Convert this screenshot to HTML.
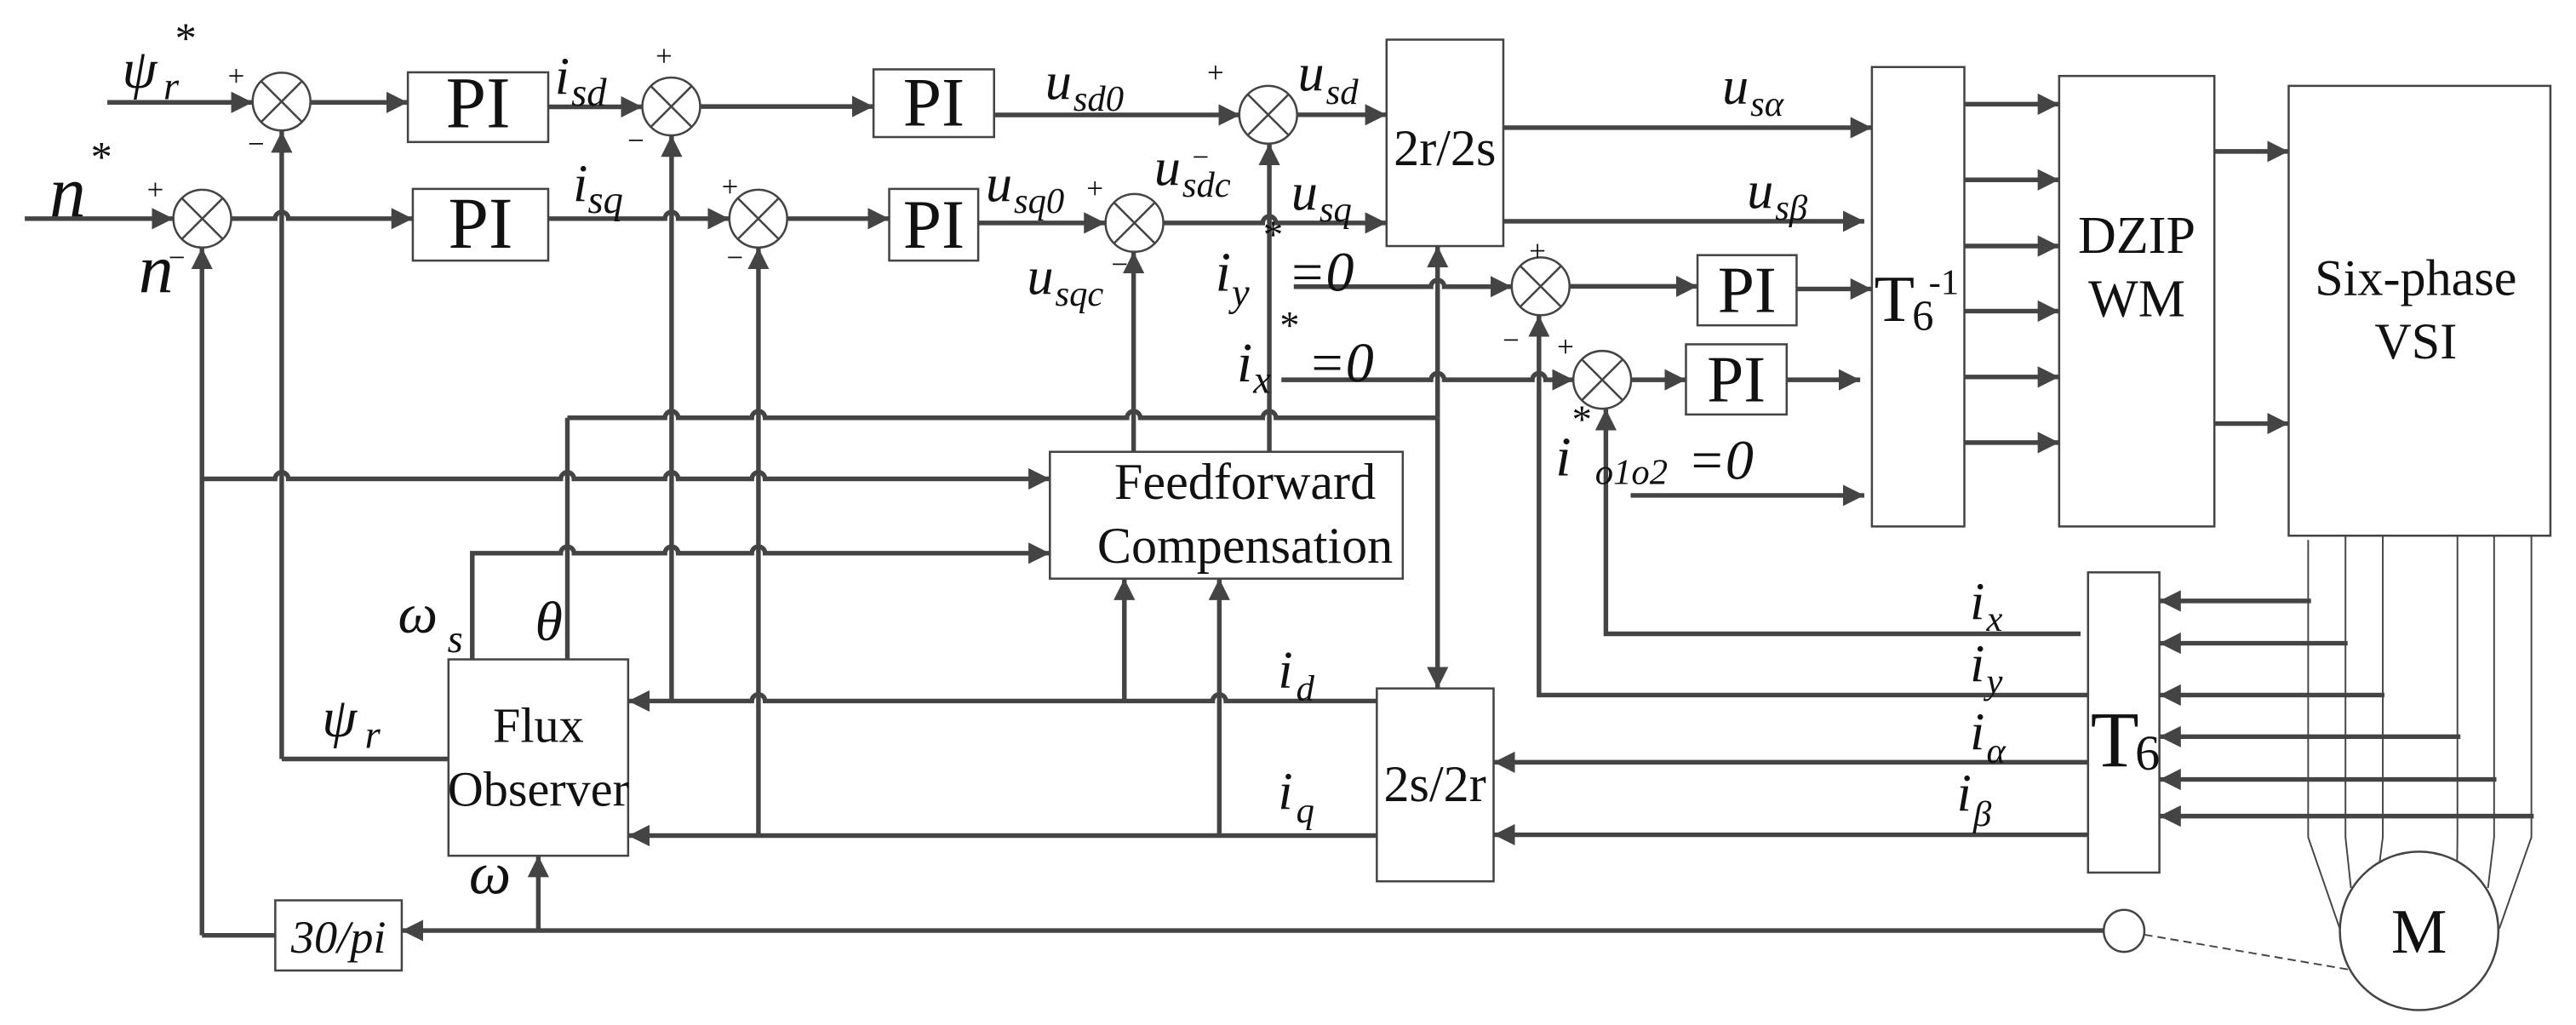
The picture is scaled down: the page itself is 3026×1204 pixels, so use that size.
<!DOCTYPE html>
<html><head><meta charset="utf-8"><style>
html,body{margin:0;padding:0;background:#fff}
svg{display:block}
text{font-family:"Liberation Serif",serif;fill:#111}
.i{font-style:italic}
</style></head><body>
<svg width="3026" height="1204" viewBox="0 0 1560 620.7" preserveAspectRatio="none" xmlns="http://www.w3.org/2000/svg">
<defs>
<marker id="a" viewBox="0 0 13 13" refX="13" refY="6.5" markerWidth="13" markerHeight="13" markerUnits="userSpaceOnUse" orient="auto"><path d="M0,0 L13,6.5 L0,13 z" fill="#444"/></marker>
</defs>
<g stroke="#444" stroke-width="2.8" fill="none">
<!-- arrowed lines -->
<g marker-end="url(#a)">
<path d="M65,62 L153,62"/>
<path d="M188,62 L247,62"/>
<path d="M332,64.7 L389,64.7"/>
<path d="M424,64.5 L529,64.5"/>
<path d="M602,69.6 L751,69.6"/>
<path d="M785,69.5 L839.7,69.5"/>
<path d="M910.4,77.3 L1133.6,77.3"/>
<path d="M910.4,134 L1129,134"/>
<path d="M15,132.4 L105,132.4"/>
<path d="M140,132.4 L166.6,132.4 A4,4 0 0 1 174.6,132.4 L250,132.4"/>
<path d="M332,132.4 L402.7,132.4 A4,4 0 0 1 410.7,132.4 L441.6,132.4"/>
<path d="M476.8,132.4 L538.5,132.4"/>
<path d="M592.4,135 L669.4,135"/>
<path d="M704.6,135 L764.7,135 A4,4 0 0 1 772.7,135 L839.7,135"/>
<path d="M170.6,459.6 L170.6,79.5"/>
<path d="M406.7,424.5 L406.7,82"/>
<path d="M459.3,506 L459.3,150"/>
<path d="M122.3,566.4 L122.3,150"/>
<path d="M686.5,273.6 L686.5,152.5"/>
<path d="M768.7,273.6 L768.7,87"/>
<path d="M870.6,253 L870.6,149"/>
<path d="M870.6,253 L870.6,416.9"/>
<path d="M122.3,290 L166.6,290 A4,4 0 0 1 174.6,290 L339.6,290 A4,4 0 0 1 347.6,290 L402.7,290 A4,4 0 0 1 410.7,290 L455.3,290 A4,4 0 0 1 463.3,290 L635.8,290"/>
<path d="M286,399.3 L286,335 L339.6,335 A4,4 0 0 1 347.6,335 L402.7,335 A4,4 0 0 1 410.7,335 L455.3,335 A4,4 0 0 1 463.3,335 L635.8,335"/>
<path d="M833.8,424.5 L742.4,424.5 A4,4 0 0 0 734.4,424.5 L463.3,424.5 A4,4 0 0 0 455.3,424.5 L380.4,424.5"/>
<path d="M833.8,506 L380.4,506"/>
<path d="M680.9,424.5 L680.9,350.4"/>
<path d="M738.4,506 L738.4,350.4"/>
<path d="M1274,563.5 L243.3,563.5"/>
<path d="M326,563.5 L326,518.2"/>
<path d="M783.5,173.6 L866.6,173.6 A4,4 0 0 1 874.6,173.6 L915.6,173.6"/>
<path d="M776,230 L866.6,230 A4,4 0 0 1 874.6,230 L928,230 A4,4 0 0 1 936,230 L953,230"/>
<path d="M950.5,173.4 L1028,173.4"/>
<path d="M987.7,230 L1021,230"/>
<path d="M1088,175 L1133.6,175"/>
<path d="M1082,230 L1126.5,230"/>
<path d="M987.5,300 L1129,300"/>
<path d="M1260,383.8 L972.5,383.8 L972.5,247.6"/>
<path d="M1264.5,420.9 L932,420.9 L932,191"/>
<path d="M1264.5,461.6 L904.5,461.6"/>
<path d="M1264.5,505.5 L904.5,505.5"/>
<path d="M1189.6,63.1 L1247,63.1"/>
<path d="M1189.6,108.9 L1247,108.9"/>
<path d="M1189.6,149 L1247,149"/>
<path d="M1189.6,188.4 L1247,188.4"/>
<path d="M1189.6,228.3 L1247,228.3"/>
<path d="M1189.6,268 L1247,268"/>
<path d="M1341,91.7 L1386,91.7"/>
<path d="M1341,256.5 L1386,256.5"/>
<path d="M1399.5,363.9 L1307.7,363.9"/>
<path d="M1421.7,389.5 L1307.7,389.5"/>
<path d="M1444,420.9 L1307.7,420.9"/>
<path d="M1490,446.1 L1307.7,446.1"/>
<path d="M1511.8,472 L1307.7,472"/>
<path d="M1534.4,494.2 L1307.7,494.2"/>
</g>
<!-- plain lines -->
<path d="M343.6,253 L402.7,253 A4,4 0 0 1 410.7,253 L455.3,253 A4,4 0 0 1 463.3,253 L682.5,253 A4,4 0 0 1 690.5,253 L764.7,253 A4,4 0 0 1 772.7,253 L870.6,253"/>
<path d="M343.6,399.3 L343.6,253"/>
<path d="M271.6,459.6 L170.6,459.6"/>
<path d="M166.7,566.4 L122.3,566.4"/>
</g>
<!-- thin wires -->
<g stroke="#444" stroke-width="1" fill="none">
<path d="M1397.8,327 L1397.8,507 L1417,562.5"/>
<path d="M1420.4,324.4 L1420.4,507 L1423.7,537.7"/>
<path d="M1443,324.4 L1443,507 L1441,522.8"/>
<path d="M1488.2,324.4 L1488.2,507 L1488,522.8"/>
<path d="M1510.4,324.4 L1510.4,507 L1506.7,537.7"/>
<path d="M1533,324.4 L1533,507 L1513.5,562.5"/>
<path d="M1298.6,566 L1423.4,587.3" stroke-dasharray="5,3"/>
</g>
<!-- boxes -->
<g stroke="#444" stroke-width="1.3" fill="#fff">
<rect x="247" y="43.8" width="85" height="42.2"/>
<rect x="250" y="114.4" width="82" height="43.4"/>
<rect x="529" y="42" width="73" height="41"/>
<rect x="538.5" y="114.4" width="53.9" height="43.4"/>
<rect x="839.7" y="24" width="70.7" height="125"/>
<rect x="1028" y="154.5" width="60" height="42.5"/>
<rect x="1021" y="208.5" width="61" height="42.5"/>
<rect x="1133.6" y="40.6" width="56" height="278.2"/>
<rect x="1247" y="46" width="94" height="272.8"/>
<rect x="1386" y="52" width="158.5" height="272.4"/>
<rect x="635.8" y="273.6" width="213.7" height="76.8"/>
<rect x="271.6" y="399.3" width="108.8" height="118.9"/>
<rect x="166.7" y="545.2" width="76.6" height="42.5"/>
<rect x="833.8" y="416.9" width="70.7" height="116.8"/>
<rect x="1264.5" y="346.6" width="43.2" height="181.8"/>
<circle cx="1465" cy="563.7" r="48"/>
<ellipse cx="1286.3" cy="563.7" rx="12.3" ry="12.7"/>
</g>
<!-- summing junctions -->
<g stroke="#444" stroke-width="1.3" fill="#fff">
<g transform="translate(170.5,61.5)"><circle r="17.5"/><path d="M-12.4,-12.4L12.4,12.4M12.4,-12.4L-12.4,12.4"/></g>
<g transform="translate(406.5,64.5)"><circle r="17.5"/><path d="M-12.4,-12.4L12.4,12.4M12.4,-12.4L-12.4,12.4"/></g>
<g transform="translate(768,69.5)"><circle r="17.5"/><path d="M-12.4,-12.4L12.4,12.4M12.4,-12.4L-12.4,12.4"/></g>
<g transform="translate(122.5,132.4)"><circle r="17.5"/><path d="M-12.4,-12.4L12.4,12.4M12.4,-12.4L-12.4,12.4"/></g>
<g transform="translate(459.2,132.4)"><circle r="17.5"/><path d="M-12.4,-12.4L12.4,12.4M12.4,-12.4L-12.4,12.4"/></g>
<g transform="translate(687,135)"><circle r="17.5"/><path d="M-12.4,-12.4L12.4,12.4M12.4,-12.4L-12.4,12.4"/></g>
<g transform="translate(933,173.4)"><circle r="17.5"/><path d="M-12.4,-12.4L12.4,12.4M12.4,-12.4L-12.4,12.4"/></g>
<g transform="translate(970.3,230)"><circle r="17.5"/><path d="M-12.4,-12.4L12.4,12.4M12.4,-12.4L-12.4,12.4"/></g>
</g>
<!-- block labels -->
<g text-anchor="middle">
<text x="289.5" y="77" font-size="44">PI</text>
<text x="291" y="150" font-size="44">PI</text>
<text x="565.5" y="76" font-size="42">PI</text>
<text x="565.5" y="150" font-size="42">PI</text>
<text x="1058" y="189" font-size="40">PI</text>
<text x="1051.5" y="243" font-size="40">PI</text>
<text x="875" y="100" font-size="31">2r/2s</text>
<text x="869" y="485" font-size="31">2s/2r</text>
<text x="1294" y="153" font-size="32">DZIP</text>
<text x="1294" y="191.4" font-size="32">WM</text>
<text x="1463" y="178.6" font-size="31">Six-phase</text>
<text x="1463" y="217" font-size="31">VSI</text>
<text x="754" y="302" font-size="31">Feedforward</text>
<text x="754" y="340.7" font-size="31">Compensation</text>
<text x="326" y="449.3" font-size="30">Flux</text>
<text x="326" y="488" font-size="30">Observer</text>
<text x="205" y="577" font-size="28" class="i">30/pi</text>
<text x="1465" y="577" font-size="38">M</text>
</g>
<text x="1135" y="194.3" font-size="40">T</text>
<text x="1158" y="200" font-size="26">6</text>
<text x="1168" y="178" font-size="22">-1</text>
<text x="1266" y="464" font-size="48">T</text>
<text x="1293" y="466" font-size="30">6</text>
<!-- signal labels -->
<g class="i">
<text x="74" y="53" font-size="34">ψ</text><text x="99" y="60" font-size="24">r</text><text x="106" y="32" font-size="26" font-style="normal">*</text>
<text x="30" y="131" font-size="44">n</text><text x="55" y="104" font-size="26" font-style="normal">*</text>
<text x="84" y="177" font-size="42">n</text>
<text x="336" y="57" font-size="32">i</text><text x="346" y="64" font-size="24">sd</text>
<text x="347" y="122" font-size="32">i</text><text x="356" y="129" font-size="24">sq</text>
<text x="633" y="60" font-size="32">u</text><text x="650" y="67" font-size="22">sd0</text>
<text x="786" y="55" font-size="32">u</text><text x="803" y="63" font-size="22">sd</text>
<text x="597" y="122" font-size="32">u</text><text x="614" y="129" font-size="22">sq0</text>
<text x="699" y="112" font-size="32">u</text><text x="716" y="119" font-size="22">sdc</text>
<text x="782" y="127" font-size="32">u</text><text x="799" y="134" font-size="22">sq</text>
<text x="622" y="178" font-size="32">u</text><text x="639" y="185" font-size="22">sqc</text>
<text x="736" y="176" font-size="34">i</text><text x="746" y="185" font-size="24">y</text><text x="765" y="150" font-size="24" font-style="normal">*</text><text x="780" y="176" font-size="34">=0</text>
<text x="749" y="231" font-size="34">i</text><text x="759" y="238" font-size="24">x</text><text x="775" y="205" font-size="24" font-style="normal">*</text><text x="792" y="231" font-size="34">=0</text>
<text x="942" y="288" font-size="34">i</text><text x="952" y="262" font-size="24" font-style="normal">*</text><text x="966" y="293" font-size="22">o1o2</text><text x="1022" y="290" font-size="34">=0</text>
<text x="1043" y="63" font-size="32">u</text><text x="1060" y="70" font-size="22">sα</text>
<text x="1058" y="126" font-size="32">u</text><text x="1075" y="133" font-size="22">sβ</text>
<text x="1193" y="375" font-size="32">i</text><text x="1203" y="382" font-size="22">x</text>
<text x="1193" y="412.6" font-size="32">i</text><text x="1203" y="420" font-size="22">y</text>
<text x="1193" y="454" font-size="32">i</text><text x="1203" y="462" font-size="22">α</text>
<text x="1185" y="491" font-size="32">i</text><text x="1195" y="500" font-size="22">β</text>
<text x="774" y="416.5" font-size="32">i</text><text x="785" y="424" font-size="22">d</text>
<text x="774" y="490" font-size="32">i</text><text x="785" y="498" font-size="22">q</text>
<text x="241" y="383" font-size="34">ω</text><text x="271" y="395" font-size="24">s</text>
<text x="324" y="387.7" font-size="34">θ</text>
<text x="195" y="446" font-size="34">ψ</text><text x="221" y="453" font-size="24">r</text>
<text x="284" y="541" font-size="36">ω</text>
</g>
<!-- signs -->
<g font-size="18" fill="#333">
<text x="138" y="52">+</text><text x="150" y="93">−</text>
<text x="397" y="40">+</text><text x="380" y="91">−</text>
<text x="731" y="50">+</text><text x="722" y="101">−</text>
<text x="89" y="121">+</text><text x="102" y="162">−</text>
<text x="437" y="119">+</text><text x="440" y="162">−</text>
<text x="658" y="120">+</text><text x="673" y="166">−</text>
<text x="926" y="158">+</text><text x="910" y="212">−</text>
<text x="943" y="216">+</text>
</g>
</svg>
</body></html>
